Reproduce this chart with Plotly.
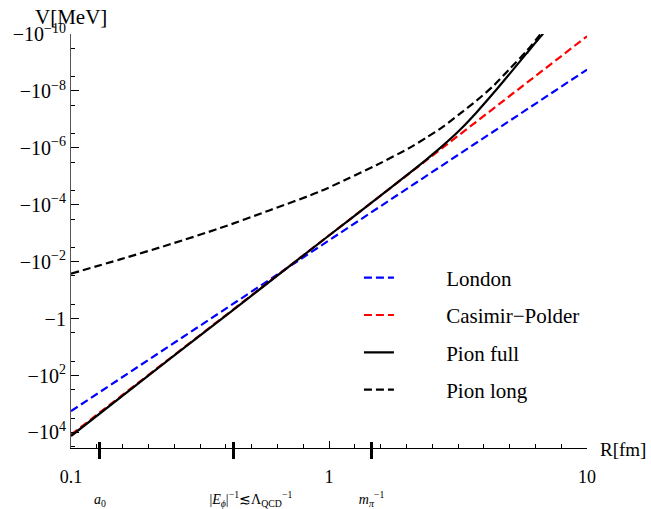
import plotly.graph_objects as go

# ---- data (R in fm, V in MeV) ----
R_london = [0.1, 0.3, 1.0, 3.0, 10.0]
V_london = [-1.78e3, -2.44, -1.78e-3, -2.44e-6, -1.78e-9]

R_cp = [0.1, 0.3, 1.0, 3.0, 10.0]
V_cp = [-1.2e4, -5.5, -1.2e-3, -5.5e-7, -1.2e-10]

R_full = [0.1, 0.2, 0.316, 0.5, 1.0, 1.58, 1.94, 2.39, 2.77, 3.22, 3.73, 4.34, 5.04, 5.83, 6.87, 7.1]
V_full = [-1.33e4, -99.0, -3.95, -0.158, -1.2e-3, -4.9e-5, -1.14e-5, -2.52e-6, -8.2e-7,
          -2.32e-7, -5.7e-8, -1.19e-8, -2.36e-9, -4.8e-10, -8.1e-11, -5.8e-11]

R_long = [0.1, 0.155, 0.242, 0.378, 0.590, 0.923, 1.17, 1.53, 2.06, 2.39, 2.77, 3.22, 3.73,
          4.34, 5.04, 5.83, 6.58, 6.9]
V_long = [-2.63e-2, -8.3e-3, -2.45e-3, -6.6e-4, -1.55e-4, -3.4e-5, -1.26e-5, -4.0e-6, -9.8e-7,
          -4.3e-7, -1.8e-7, -6.3e-8, -2.2e-8, -6.6e-9, -1.6e-9, -4.0e-10, -1.05e-10, -6.0e-11]

x_tickvals = [0.1, 1, 10]
x_ticktext = ["0.1", "1", "10"]
y_tickvals = [1e-10, 1e-8, 1e-6, 1e-4, 1e-2, 1, 1e2, 1e4]
y_ticktext = ["−10<sup>−10</sup>", "−10<sup>−8</sup>", "−10<sup>−6</sup>", "−10<sup>−4</sup>",
              "−10<sup>−2</sup>", "−1", "−10<sup>2</sup>", "−10<sup>4</sup>"]
scale_vals = [0.1295, 0.426, 1.462]
scale_text = ["<i>a</i><sub>0</sub>",
              "\u00a0" * 10 + "|<i>E</i><sub><i>ϕ</i></sub>|<sup>−1</sup>≲Λ<sub>QCD</sub><sup>−1</sup>",
              "<i>m</i><sub><i>π</i></sub><sup>−1</sup>"]

FONT = "Liberation Serif"
NB = "\u00a0" * 9

x_minor = [10 ** (k / 10) for k in range(-10, 11) if k % 10 != 0]
y_minor = [10 ** (k + 0.5) for k in range(-10, 5)]

fig = go.Figure()
fig.add_trace(go.Scatter(x=R_london, y=[-v for v in V_london], mode="lines", name=NB + "London",
                         legendgroup="a", line=dict(color="#0000ff", width=2.2, dash="8px,4px")))
fig.add_trace(go.Scatter(x=R_cp, y=[-v for v in V_cp], mode="lines", name=NB + "Casimir−Polder",
                         legendgroup="b", line=dict(color="#ff0000", width=2.2, dash="8px,4px")))
fig.add_trace(go.Scatter(x=R_full, y=[-v for v in V_full], mode="lines", name=NB + "Pion full",
                         legendgroup="c", line=dict(color="black", width=2.2, shape="spline", smoothing=0.8)))
fig.add_trace(go.Scatter(x=R_long, y=[-v for v in V_long], mode="lines", name=NB + "Pion long",
                         legendgroup="d", line=dict(color="black", width=2.2, dash="8px,4px",
                                                    shape="spline", smoothing=0.8)))
# empty traces to attach overlay axes for the scale ticks
fig.add_trace(go.Scatter(x=[], y=[], xaxis="x2", showlegend=False))
fig.add_trace(go.Scatter(x=[], y=[], xaxis="x3", showlegend=False))

fig.update_layout(
    width=651, height=509,
    margin=dict(l=71, r=64, t=34, b=61),
    paper_bgcolor="white", plot_bgcolor="white",
    font=dict(family=FONT, size=18, color="black"),
    showlegend=True,
    legend=dict(x=0.558, y=0.46, xanchor="left", yanchor="top", bgcolor="rgba(0,0,0,0)",
                traceorder="grouped", tracegroupgap=7, font=dict(family=FONT, size=21)),
    xaxis=dict(type="log", range=[-1, 1], showgrid=False, zeroline=False, automargin=False,
               showline=True, linecolor="black", linewidth=1,
               tickvals=x_tickvals, ticktext=x_ticktext, ticks="inside", ticklen=7,
               tickcolor="black", tickwidth=1, ticklabelstandoff=12,
               tickfont=dict(family=FONT, size=18),
               minor=dict(tickvals=x_minor, ticks="inside", ticklen=4, tickcolor="black", tickwidth=1)),
    xaxis2=dict(type="log", range=[-1, 1], overlaying="x", anchor="y", side="bottom",
                showgrid=False, zeroline=False, showline=False, automargin=False,
                tickvals=scale_vals, ticktext=scale_text, ticks="outside", ticklen=10,
                tickwidth=2.5, tickcolor="black", ticklabelstandoff=28,
                tickfont=dict(family=FONT, size=14)),
    xaxis3=dict(type="log", range=[-1, 1], overlaying="x", anchor="y", side="bottom",
                showgrid=False, zeroline=False, showline=False, automargin=False,
                tickvals=scale_vals, ticktext=["", "", ""], ticks="inside", ticklen=6,
                tickwidth=2.5, tickcolor="black"),
    yaxis=dict(type="log", range=[4.545, -10], showgrid=False, zeroline=False, automargin=False,
               showline=True, linecolor="#555555", linewidth=1.2,
               tickvals=y_tickvals, ticktext=y_ticktext, ticks="inside", ticklen=8,
               tickcolor="black", tickwidth=1, tickfont=dict(family=FONT, size=20),
               minor=dict(tickvals=y_minor, ticks="inside", ticklen=4, tickcolor="black", tickwidth=1)),
    annotations=[
        dict(text="V[MeV]", xref="paper", yref="paper", x=-0.074, y=1.04, xanchor="left",
             yanchor="middle", showarrow=False, font=dict(family=FONT, size=21)),
        dict(text="R[fm]", xref="paper", yref="paper", x=1.021, y=-0.004, xanchor="left",
             yanchor="middle", showarrow=False, font=dict(family=FONT, size=19)),
    ],
)

fig.write_html("out.html", config={"displayModeBar": False},
               post_script="document.body.style.margin='0';")
